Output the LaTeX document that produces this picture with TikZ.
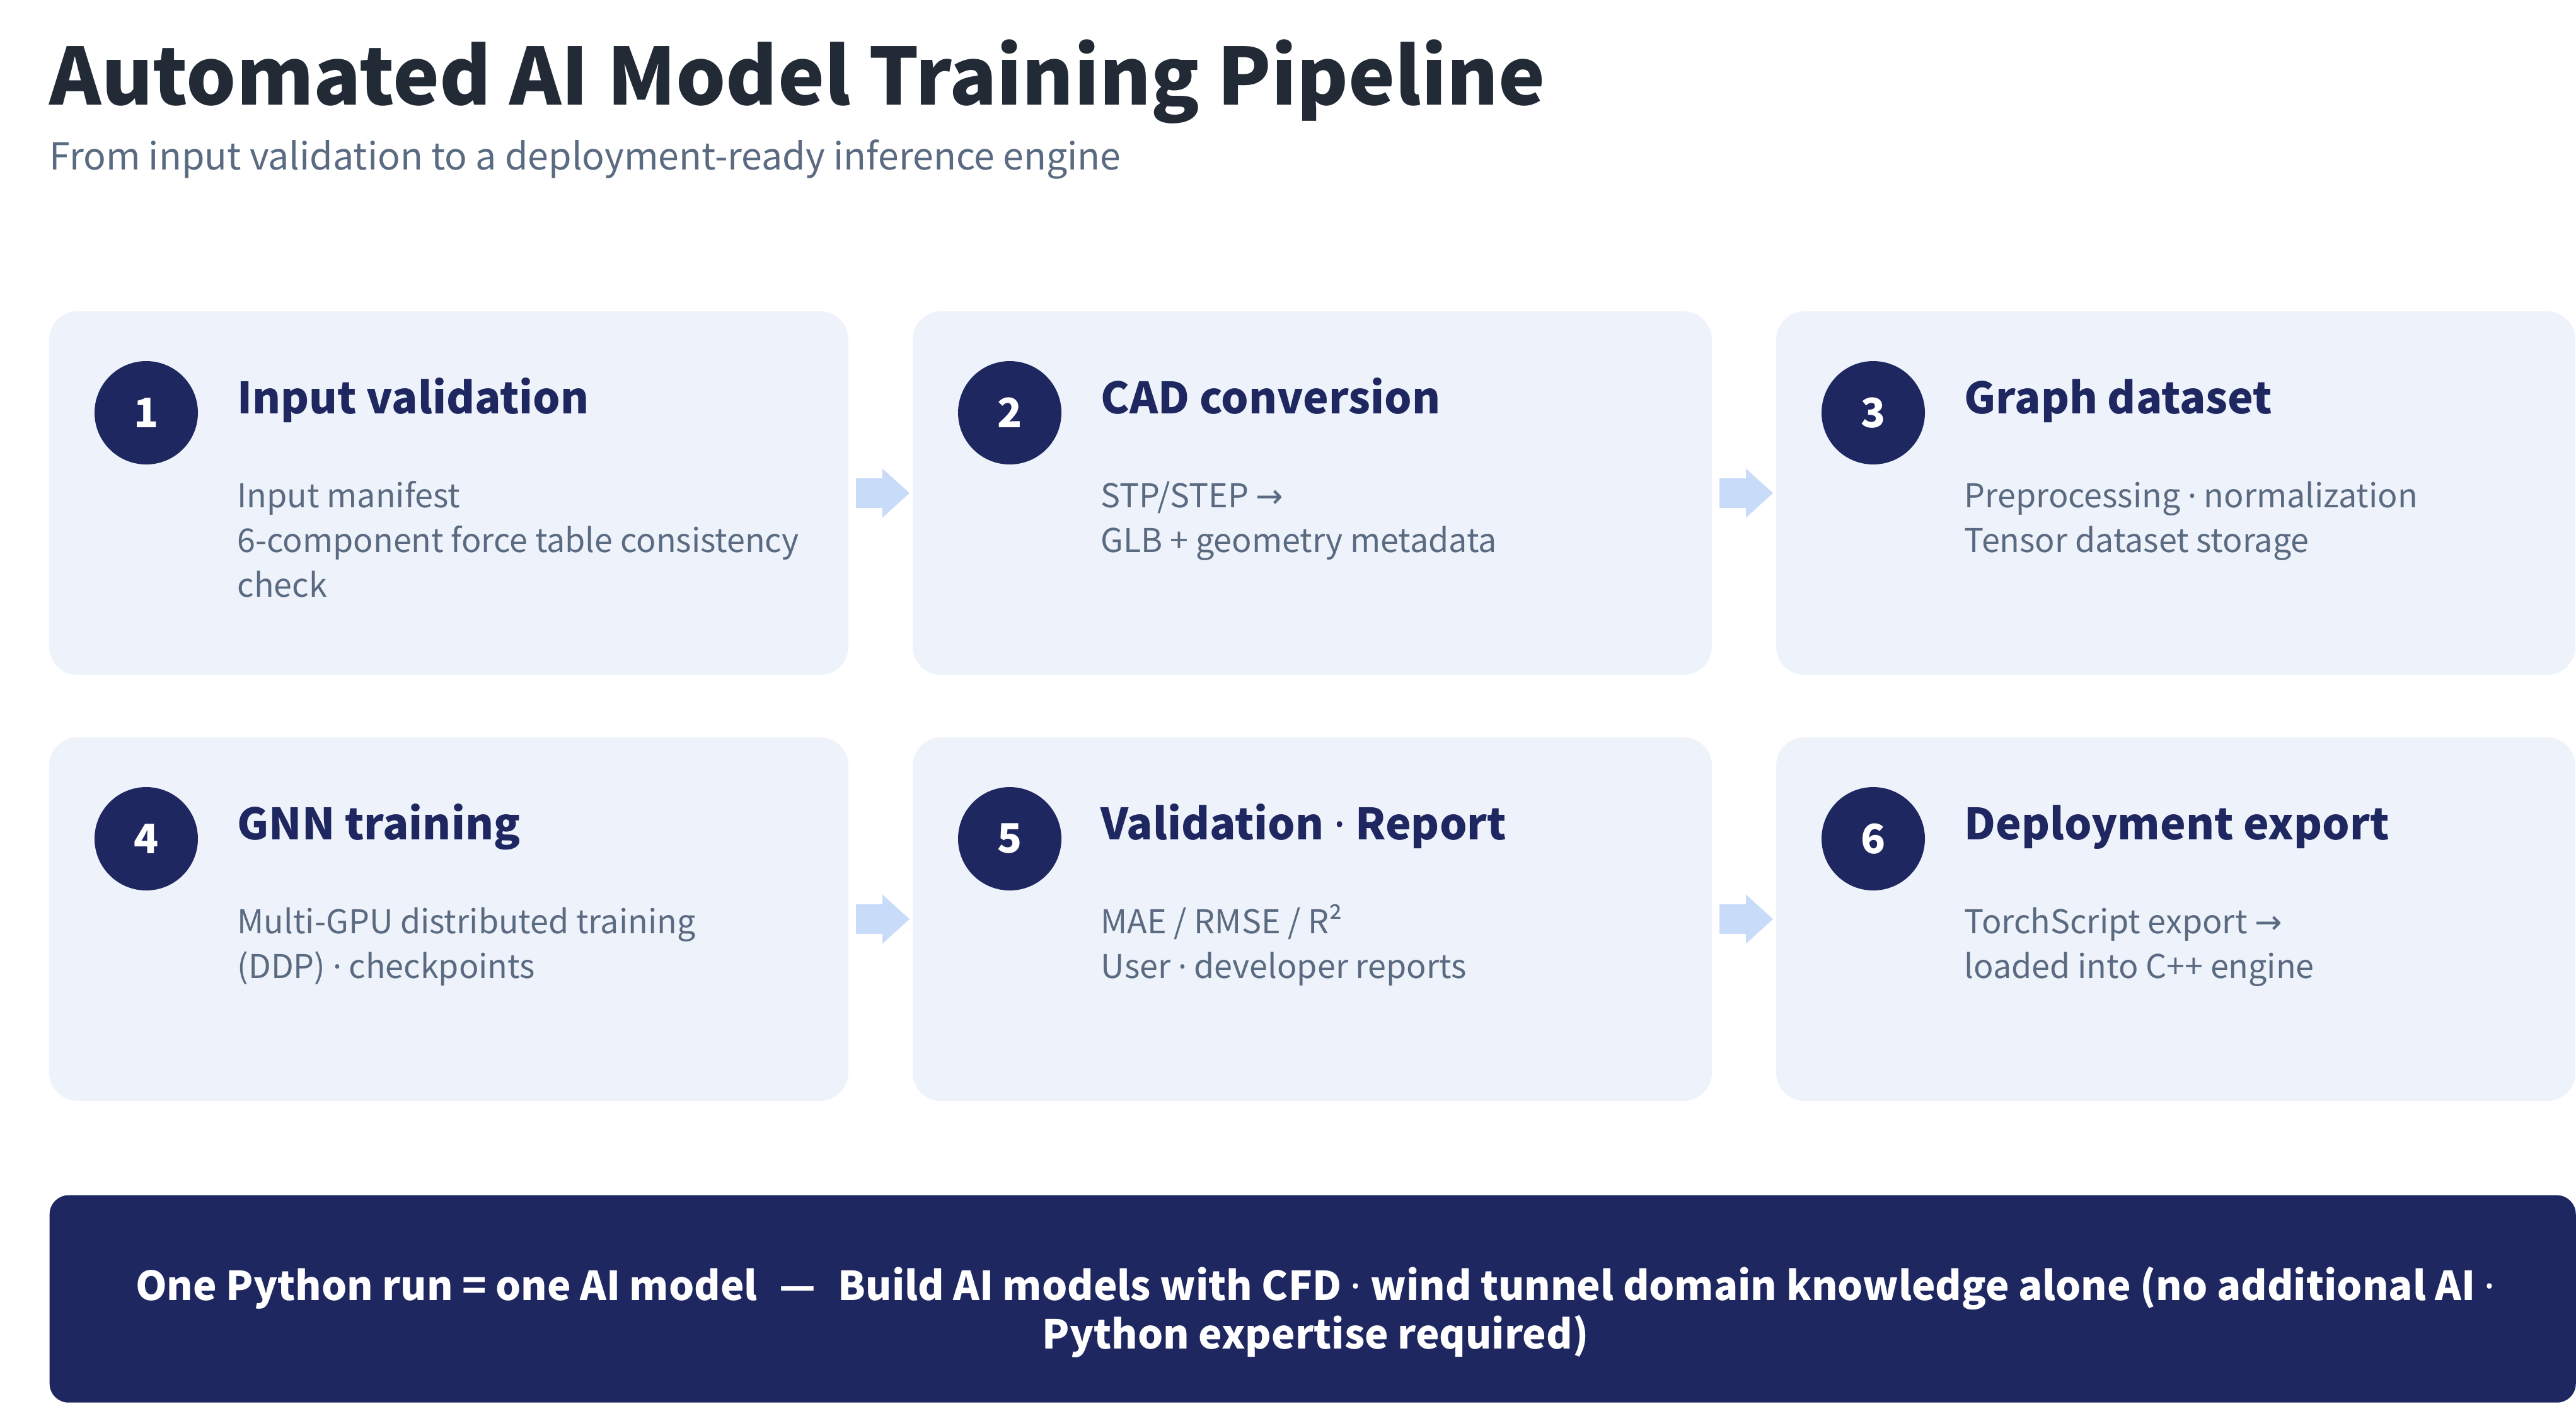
\documentclass[tikz,border=0pt]{standalone}
\usepackage{fontspec}
\setmainfont{Noto Sans CJK KR}
\newfontfamily\arrowfont{DejaVu Sans}
\newfontfamily\latinfont{Noto Sans}
\usetikzlibrary{positioning,arrows.meta}
\definecolor{navy}{HTML}{1F2761}
\definecolor{ink}{HTML}{222A36}
\definecolor{slate}{HTML}{5A6A80}
\definecolor{cardbg}{HTML}{EEF2FA}
\definecolor{flowblue}{HTML}{C8DBF8}
\tikzset{
    card/.style={rectangle, rounded corners=4.5mm, fill=cardbg, minimum width=12.68cm,
        minimum height=5.77cm, inner sep=0pt, outer sep=0pt},
    badge/.style={circle, fill=navy, minimum size=1.64cm, inner sep=0pt, text=white,
        font=\fontsize{18.3pt}{20pt}\selectfont\bfseries},
    heading/.style={anchor=base west, inner sep=0pt, text=navy,
        font=\fontsize{19.5pt}{24pt}\selectfont\bfseries},
    body/.style={anchor=base west, align=left, inner sep=0pt, text=slate,
        font=\fontsize{14.8pt}{20.2pt}\selectfont},
    flow/.style={draw=flowblue, line width=4.7mm,
        -{Triangle[length=4.3mm, width=7.8mm, line width=0pt]},
        shorten <=1.2mm, shorten >=0.5mm},
}
\newcommand{\tto}{{\arrowfont →}}
\newcommand{\mdot}{{\latinfont ·}}
\begin{document}
\begin{tikzpicture}
\useasboundingbox (0,0) rectangle (40.87,-22.27);

\node[anchor=base west, inner sep=0pt, text=ink, font=\fontsize{35.5pt}{40pt}\selectfont\bfseries]
    (title) at (0.78,-1.66) {Automated AI Model Training Pipeline};
\node[anchor=base west, inner sep=0pt, text=slate, font=\fontsize{16.8pt}{20pt}\selectfont]
    (subtitle) at (0.78,-2.69) {From input validation to a deployment-ready inference engine};

\node[card, anchor=north west] (c1) at (0.78,-4.94) {};
\node[card, right=1.02cm of c1] (c2) {};
\node[card, right=1.02cm of c2] (c3) {};
\node[card, below=0.99cm of c1] (c4) {};
\node[card, right=1.02cm of c4] (c5) {};
\node[card, right=1.02cm of c5] (c6) {};

\draw[flow] (c1.east) -- (c2.west);
\draw[flow] (c2.east) -- (c3.west);
\draw[flow] (c4.east) -- (c5.west);
\draw[flow] (c5.east) -- (c6.west);

\node[badge] (n1) at ([shift={(1.54,-1.61)}]c1.north west) {1};
\node[badge] (n2) at ([shift={(1.54,-1.61)}]c2.north west) {2};
\node[badge] (n3) at ([shift={(1.54,-1.61)}]c3.north west) {3};
\node[badge] (n4) at ([shift={(1.54,-1.61)}]c4.north west) {4};
\node[badge] (n5) at ([shift={(1.54,-1.61)}]c5.north west) {5};
\node[badge] (n6) at ([shift={(1.54,-1.61)}]c6.north west) {6};

\node[heading] (h1) at ([shift={(2.98,-1.62)}]c1.north west) {Input validation};
\node[heading] (h2) at ([shift={(2.98,-1.62)}]c2.north west) {CAD conversion};
\node[heading] (h3) at ([shift={(2.98,-1.62)}]c3.north west) {Graph dataset};
\node[heading] (h4) at ([shift={(2.98,-1.62)}]c4.north west) {GNN training};
\node[heading] (h5) at ([shift={(2.98,-1.62)}]c5.north west) {Validation \mdot{} Report};
\node[heading] (h6) at ([shift={(2.98,-1.62)}]c6.north west) {Deployment export};

% base anchor = last line
\node[body] (b1) at ([shift={(2.98,-4.53)}]c1.north west)
    {Input manifest\\6-component force table consistency\\check};
\node[body] (b2) at ([shift={(2.98,-3.82)}]c2.north west)
    {STP/STEP \tto\\GLB + geometry metadata};
\node[body] (b3) at ([shift={(2.98,-3.82)}]c3.north west)
    {Preprocessing \mdot{} normalization\\Tensor dataset storage};
\node[body] (b4) at ([shift={(2.98,-3.82)}]c4.north west)
    {Multi-GPU distributed training\\(DDP) \mdot{} checkpoints};
\node[body] (b5) at ([shift={(2.98,-3.82)}]c5.north west)
    {MAE / RMSE / R²\\User \mdot{} developer reports};
\node[body] (b6) at ([shift={(2.98,-3.82)}]c6.north west)
    {TorchScript export \tto\\loaded into C++ engine};

\node[rectangle, rounded corners=3mm, fill=navy, anchor=north west, minimum width=40.08cm,
    minimum height=3.29cm, inner sep=0pt] (banner) at (0.78,-18.96) {};
\node[anchor=base, align=center, inner sep=0pt, text=white,
    font=\fontsize{18pt}{21.9pt}\selectfont\bfseries] (note) at (20.87,-21.40)
    {One Python run = one AI model\hspace{0.35cm}—\hspace{0.35cm}Build AI models with CFD \mdot{} wind tunnel domain knowledge alone (no additional AI \mdot\\Python expertise required)};
\end{tikzpicture}
\end{document}
